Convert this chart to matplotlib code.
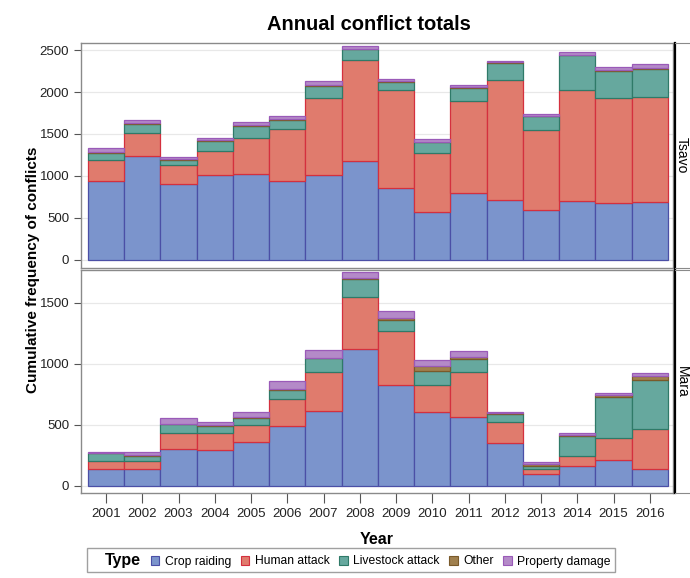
import matplotlib
matplotlib.use("Agg")
import matplotlib.pyplot as plt
from matplotlib.patches import Patch
import numpy as np

plt.rcParams["font.family"] = "Liberation Sans"

years = list(range(2001, 2017))
types = ["Crop raiding", "Human attack", "Livestock attack", "Other", "Property damage"]

# Tsavo counts per type
tsavo_crop = [940, 1234, 900, 1015, 1027, 943, 1011, 1182, 856, 565, 800, 708, 597, 704, 673, 693]
tsavo_human = [246, 274, 230, 282, 430, 621, 919, 1198, 1166, 709, 1098, 1441, 955, 1326, 1261, 1245]
tsavo_livestock = [88, 116, 64, 120, 143, 108, 144, 131, 99, 131, 152, 199, 159, 406, 315, 339]
tsavo_other = [8, 6, 4, 5, 5, 8, 5, 5, 10, 4, 5, 6, 4, 5, 10, 6]
tsavo_property = [45, 38, 22, 28, 32, 38, 55, 28, 26, 25, 28, 18, 22, 32, 42, 55]

# Mara counts per type
mara_crop = [142, 136, 302, 291, 357, 495, 615, 1121, 830, 604, 561, 351, 98, 161, 212, 139]
mara_human = [59, 65, 128, 145, 144, 221, 321, 431, 441, 221, 375, 169, 38, 87, 183, 324]
mara_livestock = [66, 47, 76, 59, 57, 73, 109, 147, 93, 114, 104, 73, 25, 163, 337, 405]
mara_other = [3, 3, 4, 3, 3, 4, 5, 5, 10, 41, 13, 3, 19, 8, 14, 36]
mara_property = [10, 24, 48, 30, 41, 64, 66, 49, 61, 49, 50, 11, 19, 11, 13, 21]

fills = ["#7b94cc", "#e07b6d", "#66a89e", "#a0804e", "#b48ac8"]
edges = ["#4b4fa6", "#d4303e", "#2f7a68", "#7a5a2a", "#9a5ab8"]

fig = plt.figure(figsize=(6.9, 5.78), dpi=100)

left, width = 81 / 690, 592 / 690
ax_top = fig.add_axes([left, 1 - 268 / 578, width, 225 / 578])
ax_bot = fig.add_axes([left, 1 - 493 / 578, width, 223 / 578])


def draw_panel(ax, series, ylim, yticks):
    bottom = np.zeros(len(years))
    for vals, fc, ec in zip(series, fills, edges):
        ax.bar(years, vals, width=1.0, bottom=bottom, color=fc, edgecolor=ec,
               linewidth=0.9, zorder=3)
        bottom += np.array(vals)
    ax.set_xlim(2000.31, 2016.64)
    ax.set_ylim(*ylim)
    ax.set_yticks(yticks)
    ax.yaxis.grid(True, color="#e8e8e8", linewidth=0.9, zorder=0)
    ax.set_axisbelow(True)
    for s in ax.spines.values():
        s.set_color("#8a8a8a")
        s.set_linewidth(1.0)
    ax.tick_params(axis="y", labelsize=9.5, length=5, color="#555555", colors="#222222")
    ax.set_xticks(years)


draw_panel(ax_top, [tsavo_crop, tsavo_human, tsavo_livestock, tsavo_other, tsavo_property],
           (-100, 2585), [0, 500, 1000, 1500, 2000, 2500])
draw_panel(ax_bot, [mara_crop, mara_human, mara_livestock, mara_other, mara_property],
           (-58, 1770), [0, 500, 1000, 1500])

ax_top.tick_params(axis="x", bottom=False, labelbottom=False)
ax_bot.set_xticklabels([str(y) for y in years])
ax_bot.tick_params(axis="x", labelsize=9.5, length=7, color="#555555", colors="#222222")

# strip labels on the right
for ax_p, lab in [(ax_top, "Tsavo"), (ax_bot, "Mara")]:
    pos = ax_p.get_position()
    sx = 675 / 690
    strip = fig.add_axes([sx, pos.y0, 1.0 - sx, pos.height])
    strip.set_xticks([])
    strip.set_yticks([])
    for name, s in strip.spines.items():
        s.set_color("#8a8a8a")
    strip.spines["left"].set_color("black")
    strip.spines["left"].set_linewidth(1.6)
    strip.spines["right"].set_visible(False)
    strip.text(0.45, 0.5, lab, rotation=270, ha="center", va="center",
               fontsize=10, transform=strip.transAxes)

fig.text(369 / 690, 1 - 24 / 578, "Annual conflict totals",
         ha="center", va="center", fontsize=14.5, fontweight="bold")
fig.text(33 / 690, 1 - 270 / 578, "Cumulative frequency of conflicts", rotation=90,
         ha="center", va="center", fontsize=11, fontweight="bold")
fig.text(377 / 690, 1 - 540 / 578, "Year",
         ha="center", va="center", fontsize=11.5, fontweight="bold")

handles = [Patch(visible=False)] + [Patch(facecolor=f, edgecolor=e, linewidth=0.8)
                                    for f, e in zip(fills, edges)]
leg = fig.legend(handles, ["Type"] + types, ncol=6, loc="center",
                 bbox_to_anchor=(351 / 690, 1 - 560 / 578), frameon=True,
                 fontsize=8.7, handlelength=0.7, handleheight=0.7,
                 handletextpad=0.45, columnspacing=0.8, borderpad=0.35,
                 fancybox=False, edgecolor="#888888")
leg.get_texts()[0].set_fontweight("bold")
leg.get_texts()[0].set_fontsize(11.5)
leg.get_frame().set_linewidth(1.0)

fig.savefig("out.png", dpi=100)
